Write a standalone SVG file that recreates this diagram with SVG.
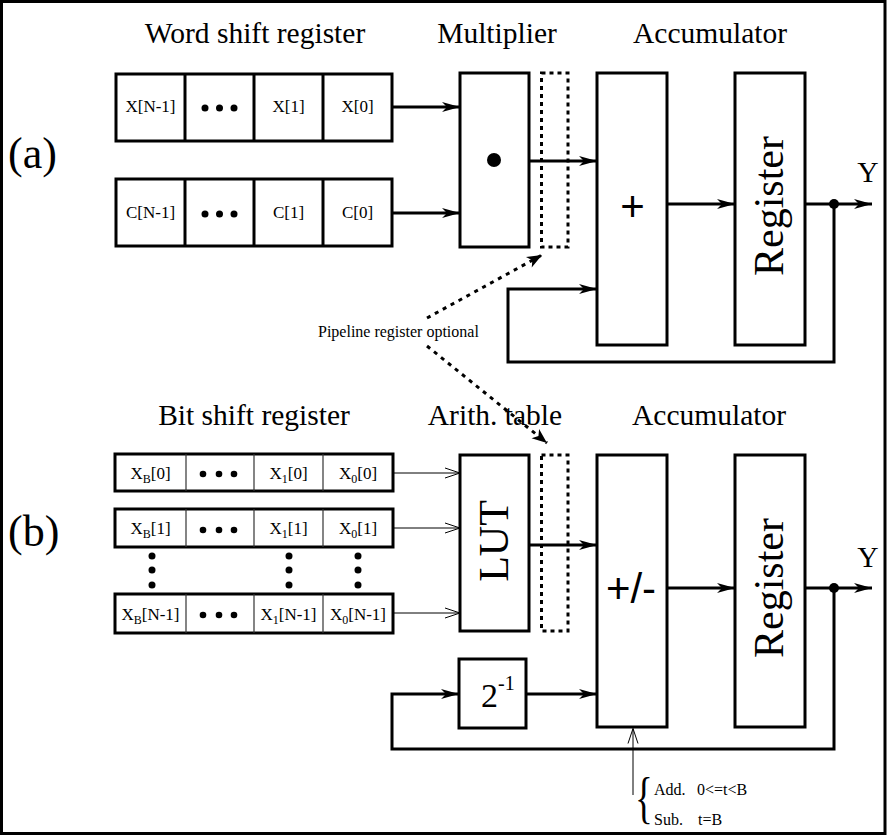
<svg xmlns="http://www.w3.org/2000/svg" width="887" height="836" viewBox="0 0 887 836">
<defs>
<marker id="ah" viewBox="-20 -6 21 12" refX="0" refY="0" markerWidth="21" markerHeight="12" markerUnits="userSpaceOnUse" orient="auto"><path d="M0,0 L-18,-5 L-13,0 L-18,5 Z" fill="#000"/></marker>
<marker id="da" viewBox="-18 -7 19 14" refX="0" refY="0" markerWidth="19" markerHeight="14" markerUnits="userSpaceOnUse" orient="auto"><path d="M0,0 L-15,-6 L-11,0 L-15,6 Z" fill="#000"/></marker>
<marker id="oa" viewBox="-16 -6 17 12" refX="0" refY="0" markerWidth="17" markerHeight="12" markerUnits="userSpaceOnUse" orient="auto"><path d="M-15,-5 L0,0 L-15,5" fill="none" stroke="#000" stroke-width="1"/></marker>
</defs>
<style>
.box{fill:#fff;stroke:#000;stroke-width:3}
.dash{fill:none;stroke:#000;stroke-width:3;stroke-dasharray:4 4}
.w{fill:none;stroke:#000;stroke-width:3}
.t{fill:none;stroke:#000;stroke-width:1}
.div{stroke:#333;stroke-width:1.2}
.dot{stroke:#000;stroke-width:3;stroke-dasharray:4 5;fill:none}
.h{font-family:"Liberation Serif",serif;font-size:29.5px;text-anchor:middle}
.c{font-family:"Liberation Serif",serif;font-size:17px;text-anchor:middle}
.big{font-family:"Liberation Serif",serif;font-size:44px}
.rot{font-family:"Liberation Serif",serif;font-size:42px;text-anchor:middle}
.sans{font-family:"Liberation Sans",sans-serif;font-size:42px;text-anchor:middle}
.s{font-family:"Liberation Serif",serif;font-size:16px}
</style>
<rect x="0" y="0" width="887" height="836" fill="#fff"/>
<rect x="1.5" y="1.5" width="883.5" height="832" fill="none" stroke="#000" stroke-width="3"/>

<g id="labels">
<text class="h" x="255" y="43">Word shift register</text>
<text class="h" x="497" y="43">Multiplier</text>
<text class="h" x="710" y="43">Accumulator</text>
<text class="h" x="254" y="425">Bit shift register</text>
<text class="h" x="495" y="425">Arith. table</text>
<text class="h" x="709" y="425">Accumulator</text>
<text class="big" x="8" y="168">(a)</text>
<text class="big" x="8" y="546">(b)</text>
<text class="s" x="318" y="337" font-size="17">Pipeline register optional</text>
</g>

<g id="x-register">
<rect class="box" x="116" y="74" width="276" height="67"/>
<line class="w" x1="185" y1="74" x2="185" y2="141"/>
<line class="w" x1="254" y1="74" x2="254" y2="141"/>
<line class="w" x1="323" y1="74" x2="323" y2="141"/>
<text class="c" x="150.5" y="112">X[N-1]</text>
<circle cx="205" cy="108" r="3.5"/><circle cx="219.5" cy="108" r="3.5"/><circle cx="234" cy="108" r="3.5"/>
<text class="c" x="288.5" y="112">X[1]</text>
<text class="c" x="357.5" y="112">X[0]</text>
</g>

<g id="c-register">
<rect class="box" x="116" y="179" width="276" height="67"/>
<line class="w" x1="185" y1="179" x2="185" y2="246"/>
<line class="w" x1="254" y1="179" x2="254" y2="246"/>
<line class="w" x1="323" y1="179" x2="323" y2="246"/>
<text class="c" x="150.5" y="218">C[N-1]</text>
<circle cx="205" cy="214" r="3.5"/><circle cx="219.5" cy="214" r="3.5"/><circle cx="234" cy="214" r="3.5"/>
<text class="c" x="288.5" y="218">C[1]</text>
<text class="c" x="357.5" y="218">C[0]</text>
</g>

<g id="multiplier">
<rect class="box" x="460" y="73" width="69" height="174"/>
<circle cx="494" cy="160" r="7"/>
</g>
<g id="pipeline-a"><rect class="dash" x="541.5" y="73" width="26.5" height="174"/></g>

<g id="adder">
<rect class="box" x="597" y="73" width="70" height="272"/>
<text class="sans" x="632.5" y="221">+</text>
</g>
<g id="register-a">
<rect class="box" x="735" y="73" width="70" height="272"/>
<text class="rot" transform="translate(783 206) rotate(-90)">Register</text>
</g>
<g id="y-a"><text class="h" x="868" y="182" font-size="27">Y</text></g>

<g id="b-row0">
<rect class="box" x="115" y="454" width="278" height="37"/>
<line class="div" x1="186" y1="454" x2="186" y2="491"/>
<line class="div" x1="254" y1="454" x2="254" y2="491"/>
<line class="div" x1="323" y1="454" x2="323" y2="491"/>
<text class="c" x="150.5" y="479">X<tspan font-size="12" dy="4">B</tspan><tspan dy="-4">[0]</tspan></text>
<circle cx="203" cy="474" r="3.3"/><circle cx="219" cy="474" r="3.3"/><circle cx="234" cy="474" r="3.3"/>
<text class="c" x="288.5" y="479">X<tspan font-size="12" dy="4">1</tspan><tspan dy="-4">[0]</tspan></text>
<text class="c" x="358" y="479">X<tspan font-size="12" dy="4">0</tspan><tspan dy="-4">[0]</tspan></text>
</g>
<g id="b-row1">
<rect class="box" x="115" y="509" width="278" height="38"/>
<line class="div" x1="186" y1="509" x2="186" y2="547"/>
<line class="div" x1="254" y1="509" x2="254" y2="547"/>
<line class="div" x1="323" y1="509" x2="323" y2="547"/>
<text class="c" x="150.5" y="534">X<tspan font-size="12" dy="4">B</tspan><tspan dy="-4">[1]</tspan></text>
<circle cx="203" cy="530" r="3.3"/><circle cx="219" cy="530" r="3.3"/><circle cx="234" cy="530" r="3.3"/>
<text class="c" x="288.5" y="534">X<tspan font-size="12" dy="4">1</tspan><tspan dy="-4">[1]</tspan></text>
<text class="c" x="358" y="534">X<tspan font-size="12" dy="4">0</tspan><tspan dy="-4">[1]</tspan></text>
</g>
<g id="b-vdots">
<circle cx="152" cy="556" r="3.5"/><circle cx="152" cy="570" r="3.5"/><circle cx="152" cy="585" r="3.5"/>
<circle cx="289" cy="556" r="3.5"/><circle cx="289" cy="570" r="3.5"/><circle cx="289" cy="585" r="3.5"/>
<circle cx="358" cy="556" r="3.5"/><circle cx="358" cy="570" r="3.5"/><circle cx="358" cy="585" r="3.5"/>
</g>
<g id="b-rowN">
<rect class="box" x="115" y="594" width="278" height="39"/>
<line class="div" x1="186" y1="594" x2="186" y2="633"/>
<line class="div" x1="254" y1="594" x2="254" y2="633"/>
<line class="div" x1="323" y1="594" x2="323" y2="633"/>
<text class="c" x="150.5" y="620">X<tspan font-size="12" dy="4">B</tspan><tspan dy="-4">[N-1]</tspan></text>
<circle cx="203" cy="615" r="3.3"/><circle cx="219" cy="615" r="3.3"/><circle cx="234" cy="615" r="3.3"/>
<text class="c" x="288.5" y="620">X<tspan font-size="12" dy="4">1</tspan><tspan dy="-4">[N-1]</tspan></text>
<text class="c" x="358" y="620">X<tspan font-size="12" dy="4">0</tspan><tspan dy="-4">[N-1]</tspan></text>
</g>

<g id="lut">
<rect class="box" x="460" y="455" width="69" height="176"/>
<text class="rot" font-size="43" transform="translate(508 541) rotate(-90)">LUT</text>
</g>
<g id="pipeline-b"><rect class="dash" x="541.5" y="455" width="26.5" height="176"/></g>
<g id="addsub">
<rect class="box" x="597" y="455" width="70" height="272"/>
<text class="sans" x="631" y="603">+/-</text>
</g>
<g id="register-b">
<rect class="box" x="735" y="455" width="70" height="272"/>
<text class="rot" transform="translate(783 588) rotate(-90)">Register</text>
</g>
<g id="y-b"><text class="h" x="868" y="567" font-size="27">Y</text></g>
<g id="half">
<rect class="box" x="459" y="659" width="67" height="69"/>
<text font-family="Liberation Serif, serif" font-size="34" x="481" y="707">2<tspan font-size="20" dy="-17">-1</tspan></text>
</g>
<g id="control">
<text font-family="Liberation Serif, serif" font-size="57" transform="translate(635 817) scale(0.65 1)">{</text>
<text class="s" x="654" y="795">Add.<tspan x="697">0&lt;=t&lt;B</tspan></text>
<text class="s" x="654" y="825">Sub.<tspan x="698">t=B</tspan></text>
</g>

<g id="connectors">
<line class="w" x1="392" y1="107" x2="460" y2="107" marker-end="url(#ah)"/>
<line class="w" x1="392" y1="213" x2="460" y2="213" marker-end="url(#ah)"/>
<line class="w" x1="529" y1="161" x2="597" y2="161" marker-end="url(#ah)"/>
<line class="w" x1="667" y1="204" x2="735" y2="204" marker-end="url(#ah)"/>
<line class="w" x1="805" y1="204" x2="872" y2="204" marker-end="url(#ah)"/>
<circle cx="834" cy="204" r="5"/>
<polyline class="w" points="834,204 834,362 508,362 508,289 597,289" marker-end="url(#ah)"/>

<line class="dot" x1="427" y1="318" x2="542" y2="255" marker-end="url(#da)"/>
<line class="dot" x1="427" y1="346" x2="547" y2="443" marker-end="url(#da)"/>

<line class="t" x1="393" y1="473" x2="460" y2="473" marker-end="url(#oa)"/>
<line class="t" x1="393" y1="528" x2="460" y2="528" marker-end="url(#oa)"/>
<line class="t" x1="393" y1="613" x2="460" y2="613" marker-end="url(#oa)"/>
<line class="w" x1="529" y1="545" x2="597" y2="545" marker-end="url(#ah)"/>
<line class="w" x1="667" y1="588" x2="735" y2="588" marker-end="url(#ah)"/>
<line class="w" x1="805" y1="588" x2="872" y2="588" marker-end="url(#ah)"/>
<circle cx="834" cy="588" r="5"/>
<polyline class="w" points="834,588 834,749 392,749 392,694 459,694" marker-end="url(#ah)"/>
<line class="w" x1="526" y1="694" x2="597" y2="694" marker-end="url(#ah)"/>
<line class="t" x1="633" y1="795" x2="633" y2="728.5" marker-end="url(#oa)"/>
</g>
</svg>
